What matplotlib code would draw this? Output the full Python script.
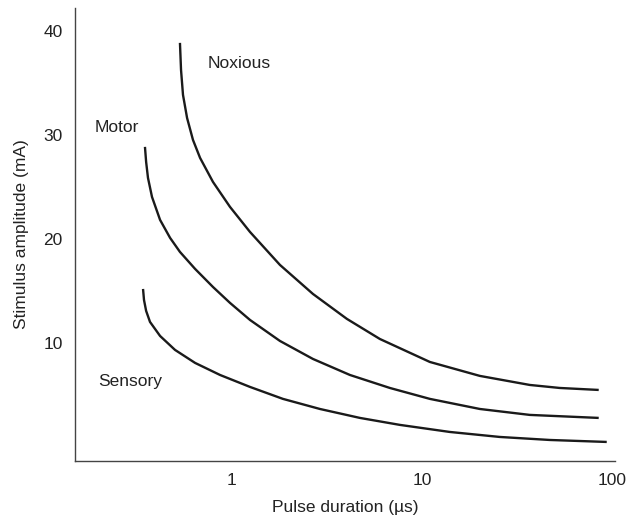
import matplotlib
matplotlib.use('Agg')
import matplotlib.pyplot as plt
from matplotlib.ticker import NullLocator

plt.rcParams['font.family'] = ['Liberation Sans', 'DejaVu Sans']

# pulse duration (us) / amplitude (mA)
noxious_x = [0.532, 0.539, 0.552, 0.580, 0.623, 0.679, 0.794, 0.976, 1.244, 1.789,
             2.669, 4.030, 6.010, 11.02, 20.20, 37.02, 53.25, 85.4]
noxious_y = [38.85, 36.25, 33.85, 31.63, 29.52, 27.79, 25.48, 23.08, 20.67, 17.50,
             14.71, 12.31, 10.38, 8.17, 6.83, 5.96, 5.67, 5.48]

motor_x = [0.348, 0.353, 0.361, 0.379, 0.418, 0.472, 0.532, 0.639, 0.794, 0.976,
           1.244, 1.789, 2.669, 4.179, 6.785, 11.02, 20.20, 37.02, 85.4]
motor_y = [28.85, 27.40, 25.87, 24.04, 21.83, 20.10, 18.75, 17.12, 15.38, 13.85,
           12.21, 10.19, 8.46, 6.92, 5.67, 4.62, 3.65, 3.08, 2.79]

sensory_x = [0.340, 0.344, 0.353, 0.370, 0.418, 0.501, 0.639, 0.865, 1.244, 1.855,
             2.905, 4.718, 7.659, 14.04, 25.73, 47.18, 94.13]
sensory_y = [15.19, 14.13, 13.08, 12.02, 10.67, 9.33, 8.08, 6.92, 5.77, 4.62,
             3.65, 2.79, 2.12, 1.44, 0.96, 0.67, 0.48]

labels = ['Noxious', 'Motor', 'Sensory']
label_x = [0.74, 0.19, 0.197]
label_y = [36.9, 30.7, 6.3]

xticks = [1, 10, 100]
yticks = [10, 20, 30, 40]

fig = plt.figure(figsize=(6.33, 5.21), dpi=100)
ax = fig.add_axes([0.1185, 0.1152, 0.853, 0.8694])

ink = '#1a1a1a'
for xs, ys in [(noxious_x, noxious_y), (motor_x, motor_y), (sensory_x, sensory_y)]:
    ax.plot(xs, ys, color=ink, lw=1.7, solid_capstyle='butt', solid_joinstyle='round')

for t, x, y in zip(labels, label_x, label_y):
    ax.text(x, y, t, fontsize=12.5, color='#222222', ha='left', va='center')

ax.set_xscale('log')
ax.set_xlim(0.149, 104)
ax.set_ylim(-1.35, 42.2)
ax.set_xticks(xticks)
ax.set_xticklabels([str(v) for v in xticks])
ax.xaxis.set_minor_locator(NullLocator())
ax.set_yticks(yticks)
ax.tick_params(length=0, labelsize=12.5, colors='#222222', pad=9)

for s in ['top', 'right']:
    ax.spines[s].set_visible(False)
for s in ['left', 'bottom']:
    ax.spines[s].set_color('#444444')
    ax.spines[s].set_linewidth(1.0)

ax.set_xlabel('Pulse duration (µs)', fontsize=12.5, color='#222222', labelpad=8)
ax.set_ylabel('Stimulus amplitude (mA)', fontsize=12.5, color='#222222', labelpad=10)

fig.savefig('out.png', dpi=100)
